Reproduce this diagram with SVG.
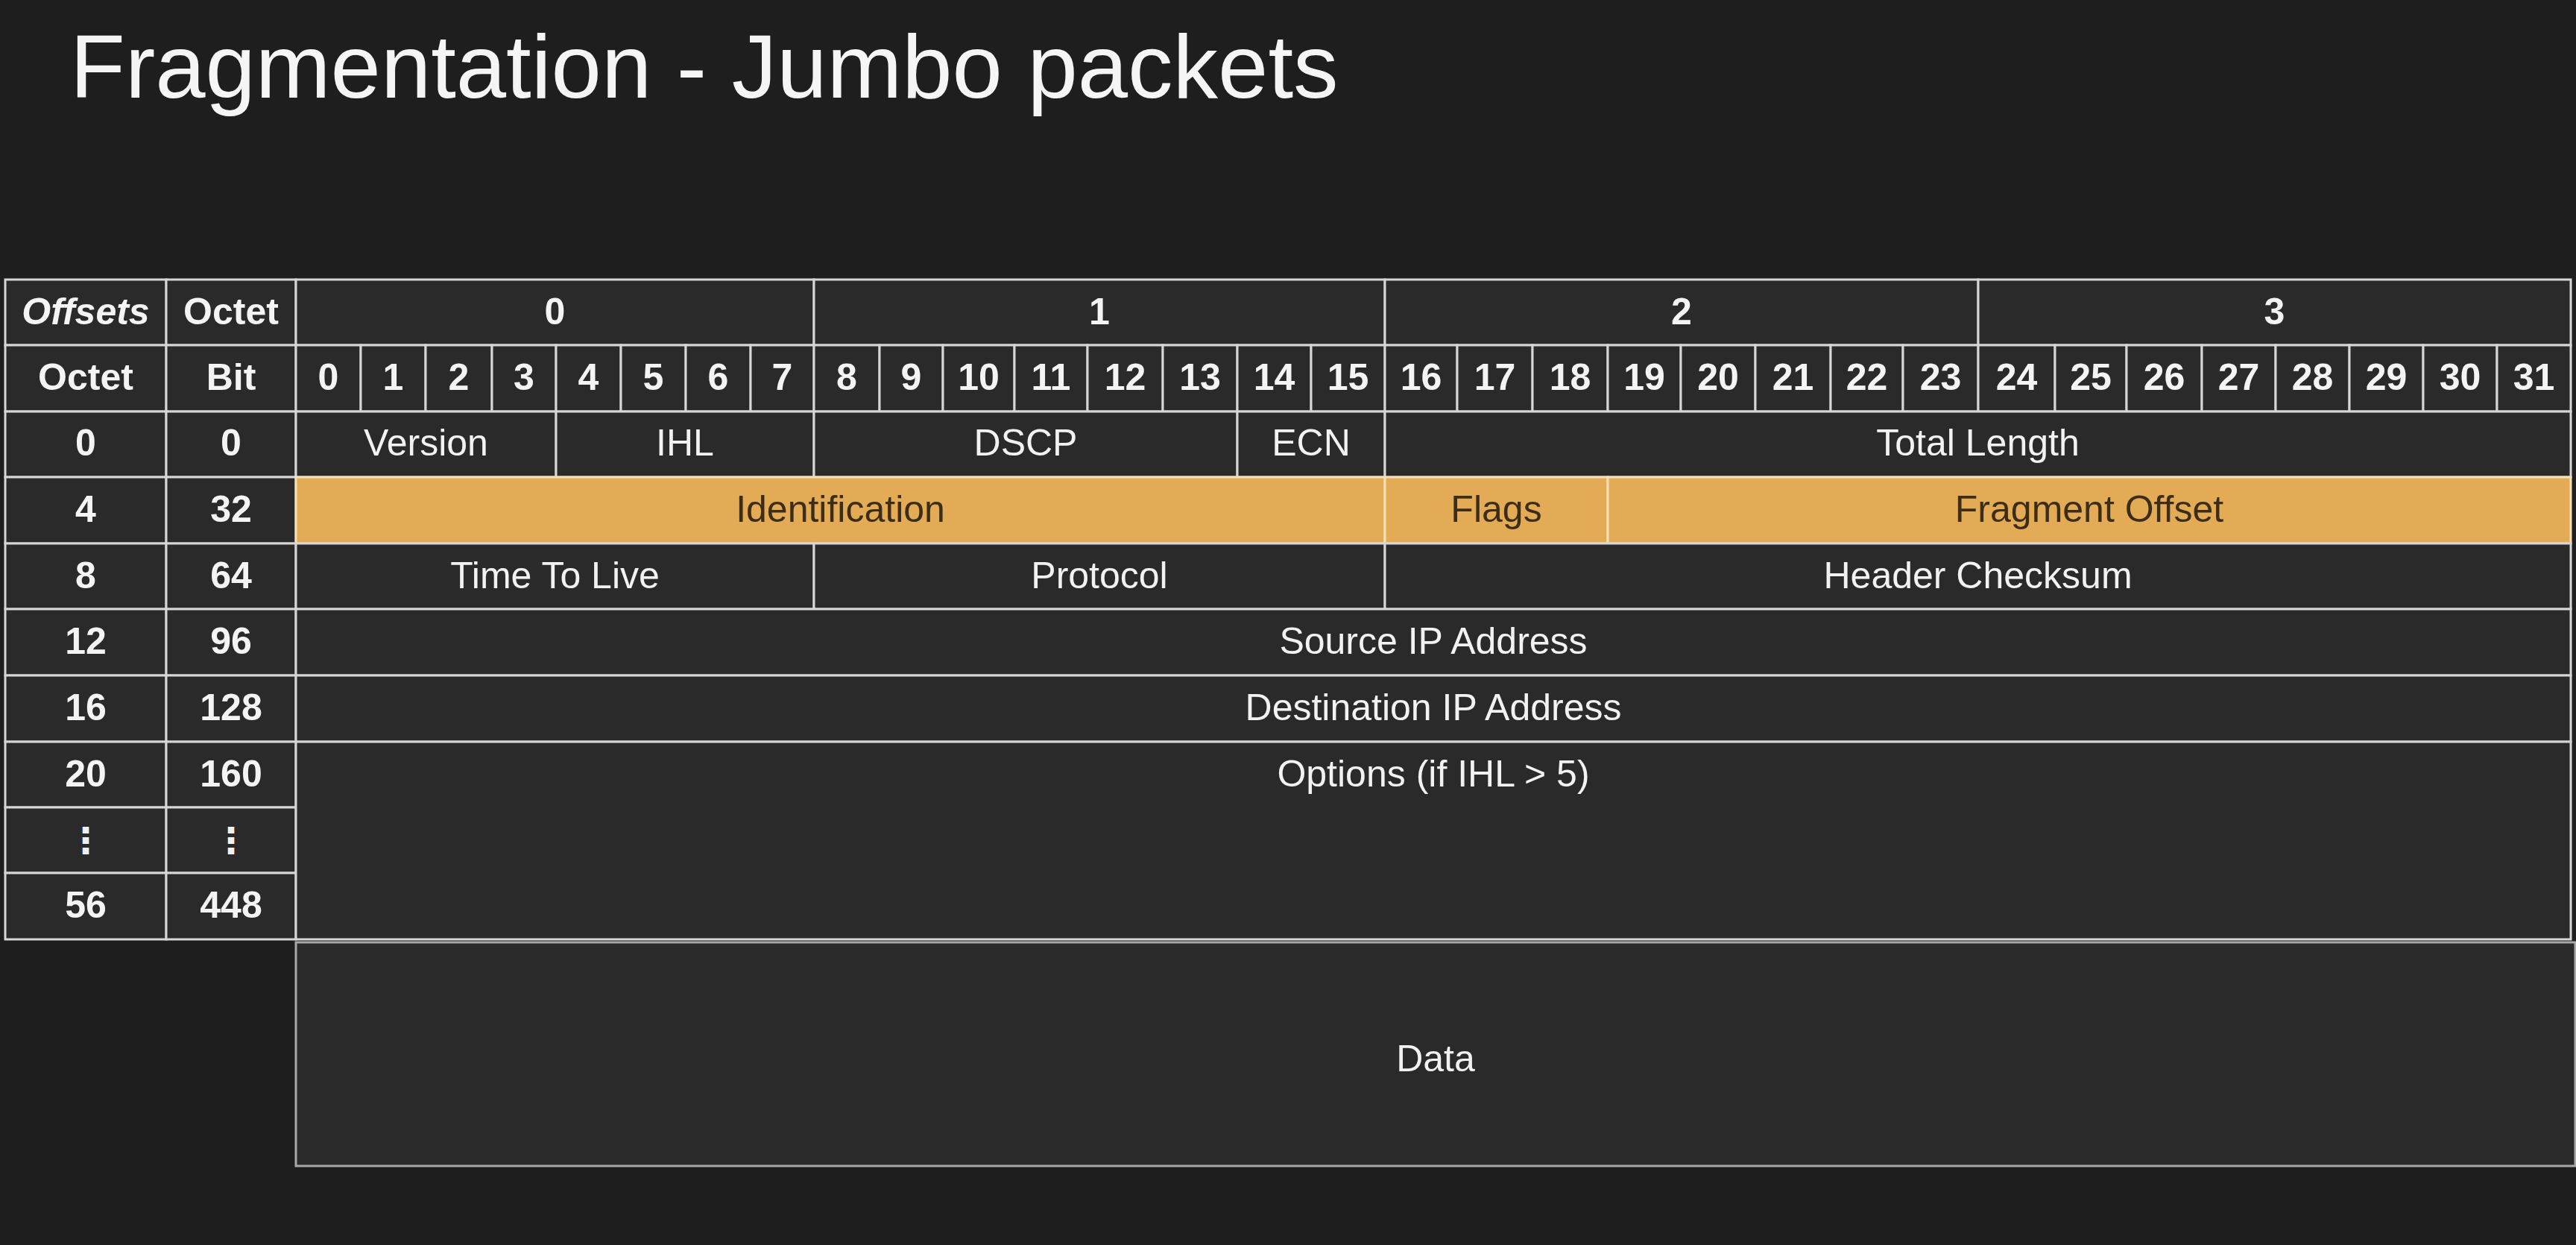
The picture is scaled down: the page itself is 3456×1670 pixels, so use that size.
<svg xmlns="http://www.w3.org/2000/svg" width="3456" height="1670" viewBox="0 0 3456 1670">
<style>
.c{fill:#2a2a2a;stroke:#d6d6d6;stroke-width:3}
.o{fill:#e4ab57;stroke:#f3e0b8;stroke-width:3}
.d{fill:#2a2a2a;stroke:#a8a8a8;stroke-width:3}
.b{font-family:"Liberation Sans",Arial,sans-serif;font-weight:bold;font-size:50px;fill:#f4f4f4;text-anchor:middle}
.bi{font-style:italic}
.r{font-family:"Liberation Sans",Arial,sans-serif;font-size:50px;fill:#f2f2f2;text-anchor:middle}
.ro{font-family:"Liberation Sans",Arial,sans-serif;font-size:50px;fill:#3b2d16;text-anchor:middle}
.e{font-family:"DejaVu Sans",sans-serif;font-weight:bold;font-size:48px;fill:#f0f0f0;text-anchor:middle}
</style>
<rect x="0" y="0" width="3456" height="1670" fill="#1e1e1e"/>
<text x="94" y="131" font-family="Liberation Sans, Arial, sans-serif" font-size="121" fill="#f5f5f5">Fragmentation - Jumbo packets</text>

<g id="header-row0">
<g id="h-offsets"><rect class="c" x="7" y="375" width="216" height="88"/><text class="b bi" x="115" y="435">Offsets</text></g>
<g id="h-octet"><rect class="c" x="223" y="375" width="174" height="88"/><text class="b" x="310" y="435">Octet</text></g>
<g id="h-oct0"><rect class="c" x="397" y="375" width="695" height="88"/><text class="b" x="744.5" y="435">0</text></g>
<g id="h-oct1"><rect class="c" x="1092" y="375" width="766" height="88"/><text class="b" x="1475" y="435">1</text></g>
<g id="h-oct2"><rect class="c" x="1858" y="375" width="796" height="88"/><text class="b" x="2256" y="435">2</text></g>
<g id="h-oct3"><rect class="c" x="2654" y="375" width="795" height="88"/><text class="b" x="3051.5" y="435">3</text></g>
</g>

<g id="header-row1">
<g id="h-octet2"><rect class="c" x="7" y="463" width="216" height="89"/><text class="b" x="115" y="523">Octet</text></g>
<g id="h-bit"><rect class="c" x="223" y="463" width="174" height="89"/><text class="b" x="310" y="523">Bit</text></g>
<g id="bit0"><rect class="c" x="397" y="463" width="87" height="89"/><text class="b" x="440.5" y="523">0</text></g>
<g id="bit1"><rect class="c" x="484" y="463" width="87" height="89"/><text class="b" x="527.5" y="523">1</text></g>
<g id="bit2"><rect class="c" x="571" y="463" width="89" height="89"/><text class="b" x="615.5" y="523">2</text></g>
<g id="bit3"><rect class="c" x="660" y="463" width="86" height="89"/><text class="b" x="703" y="523">3</text></g>
<g id="bit4"><rect class="c" x="746" y="463" width="87" height="89"/><text class="b" x="789.5" y="523">4</text></g>
<g id="bit5"><rect class="c" x="833" y="463" width="87" height="89"/><text class="b" x="876.5" y="523">5</text></g>
<g id="bit6"><rect class="c" x="920" y="463" width="87" height="89"/><text class="b" x="963.5" y="523">6</text></g>
<g id="bit7"><rect class="c" x="1007" y="463" width="85" height="89"/><text class="b" x="1049.5" y="523">7</text></g>
<g id="bit8"><rect class="c" x="1092" y="463" width="88" height="89"/><text class="b" x="1136" y="523">8</text></g>
<g id="bit9"><rect class="c" x="1180" y="463" width="85" height="89"/><text class="b" x="1222.5" y="523">9</text></g>
<g id="bit10"><rect class="c" x="1265" y="463" width="96" height="89"/><text class="b" x="1313" y="523">10</text></g>
<g id="bit11"><rect class="c" x="1361" y="463" width="98" height="89"/><text class="b" x="1410" y="523">11</text></g>
<g id="bit12"><rect class="c" x="1459" y="463" width="101" height="89"/><text class="b" x="1509.5" y="523">12</text></g>
<g id="bit13"><rect class="c" x="1560" y="463" width="100" height="89"/><text class="b" x="1610" y="523">13</text></g>
<g id="bit14"><rect class="c" x="1660" y="463" width="99" height="89"/><text class="b" x="1709.5" y="523">14</text></g>
<g id="bit15"><rect class="c" x="1759" y="463" width="99" height="89"/><text class="b" x="1808.5" y="523">15</text></g>
<g id="bit16"><rect class="c" x="1858" y="463" width="97" height="89"/><text class="b" x="1906.5" y="523">16</text></g>
<g id="bit17"><rect class="c" x="1955" y="463" width="101" height="89"/><text class="b" x="2005.5" y="523">17</text></g>
<g id="bit18"><rect class="c" x="2056" y="463" width="101" height="89"/><text class="b" x="2106.5" y="523">18</text></g>
<g id="bit19"><rect class="c" x="2157" y="463" width="98" height="89"/><text class="b" x="2206" y="523">19</text></g>
<g id="bit20"><rect class="c" x="2255" y="463" width="100" height="89"/><text class="b" x="2305" y="523">20</text></g>
<g id="bit21"><rect class="c" x="2355" y="463" width="101" height="89"/><text class="b" x="2405.5" y="523">21</text></g>
<g id="bit22"><rect class="c" x="2456" y="463" width="97" height="89"/><text class="b" x="2504.5" y="523">22</text></g>
<g id="bit23"><rect class="c" x="2553" y="463" width="101" height="89"/><text class="b" x="2603.5" y="523">23</text></g>
<g id="bit24"><rect class="c" x="2654" y="463" width="103" height="89"/><text class="b" x="2705.5" y="523">24</text></g>
<g id="bit25"><rect class="c" x="2757" y="463" width="96" height="89"/><text class="b" x="2805" y="523">25</text></g>
<g id="bit26"><rect class="c" x="2853" y="463" width="101" height="89"/><text class="b" x="2903.5" y="523">26</text></g>
<g id="bit27"><rect class="c" x="2954" y="463" width="99" height="89"/><text class="b" x="3003.5" y="523">27</text></g>
<g id="bit28"><rect class="c" x="3053" y="463" width="99" height="89"/><text class="b" x="3102.5" y="523">28</text></g>
<g id="bit29"><rect class="c" x="3152" y="463" width="99" height="89"/><text class="b" x="3201.5" y="523">29</text></g>
<g id="bit30"><rect class="c" x="3251" y="463" width="99" height="89"/><text class="b" x="3300.5" y="523">30</text></g>
<g id="bit31"><rect class="c" x="3350" y="463" width="99" height="89"/><text class="b" x="3399.5" y="523">31</text></g>
</g>

<g id="row-0">
<g id="off-0"><rect class="c" x="7" y="552" width="216" height="88"/><text class="b" x="115" y="611">0</text></g>
<g id="bit-0"><rect class="c" x="223" y="552" width="174" height="88"/><text class="b" x="310" y="611">0</text></g>
<g id="f-version"><rect class="c" x="397" y="552" width="349" height="88"/><text class="r" x="571.5" y="611">Version</text></g>
<g id="f-ihl"><rect class="c" x="746" y="552" width="346" height="88"/><text class="r" x="919" y="611">IHL</text></g>
<g id="f-dscp"><rect class="c" x="1092" y="552" width="568" height="88"/><text class="r" x="1376" y="611">DSCP</text></g>
<g id="f-ecn"><rect class="c" x="1660" y="552" width="198" height="88"/><text class="r" x="1759" y="611">ECN</text></g>
<g id="f-totlen"><rect class="c" x="1858" y="552" width="1591" height="88"/><text class="r" x="2653.5" y="611">Total Length</text></g>
</g>

<g id="row-4">
<g id="off-4"><rect class="c" x="7" y="640" width="216" height="89"/><text class="b" x="115" y="700">4</text></g>
<g id="bit-32"><rect class="c" x="223" y="640" width="174" height="89"/><text class="b" x="310" y="700">32</text></g>
<g id="f-ident"><rect class="o" x="397" y="640" width="1461" height="89"/><text class="ro" x="1127.5" y="700">Identification</text></g>
<g id="f-flags"><rect class="o" x="1858" y="640" width="299" height="89"/><text class="ro" x="2007.5" y="700">Flags</text></g>
<g id="f-fragoff"><rect class="o" x="2157" y="640" width="1292" height="89"/><text class="ro" x="2803" y="700">Fragment Offset</text></g>
</g>

<g id="row-8">
<g id="off-8"><rect class="c" x="7" y="729" width="216" height="88"/><text class="b" x="115" y="789">8</text></g>
<g id="bit-64"><rect class="c" x="223" y="729" width="174" height="88"/><text class="b" x="310" y="789">64</text></g>
<g id="f-ttl"><rect class="c" x="397" y="729" width="695" height="88"/><text class="r" x="744.5" y="789">Time To Live</text></g>
<g id="f-proto"><rect class="c" x="1092" y="729" width="766" height="88"/><text class="r" x="1475" y="789">Protocol</text></g>
<g id="f-cksum"><rect class="c" x="1858" y="729" width="1591" height="88"/><text class="r" x="2653.5" y="789">Header Checksum</text></g>
</g>

<g id="row-12">
<g id="off-12"><rect class="c" x="7" y="817" width="216" height="89"/><text class="b" x="115" y="877">12</text></g>
<g id="bit-96"><rect class="c" x="223" y="817" width="174" height="89"/><text class="b" x="310" y="877">96</text></g>
<g id="f-src"><rect class="c" x="397" y="817" width="3052" height="89"/><text class="r" x="1923" y="877">Source IP Address</text></g>
</g>

<g id="row-16">
<g id="off-16"><rect class="c" x="7" y="906" width="216" height="89"/><text class="b" x="115" y="966">16</text></g>
<g id="bit-128"><rect class="c" x="223" y="906" width="174" height="89"/><text class="b" x="310" y="966">128</text></g>
<g id="f-dst"><rect class="c" x="397" y="906" width="3052" height="89"/><text class="r" x="1923" y="966">Destination IP Address</text></g>
</g>

<g id="row-20">
<g id="off-20"><rect class="c" x="7" y="995" width="216" height="88"/><text class="b" x="115" y="1055">20</text></g>
<g id="bit-160"><rect class="c" x="223" y="995" width="174" height="88"/><text class="b" x="310" y="1055">160</text></g>
<g id="off-dots"><rect class="c" x="7" y="1083" width="216" height="88"/><text class="e" x="115" y="1127" dominant-baseline="central">⋮</text></g>
<g id="bit-dots"><rect class="c" x="223" y="1083" width="174" height="88"/><text class="e" x="310" y="1127" dominant-baseline="central">⋮</text></g>
<g id="off-56"><rect class="c" x="7" y="1171" width="216" height="89"/><text class="b" x="115" y="1231">56</text></g>
<g id="bit-448"><rect class="c" x="223" y="1171" width="174" height="89"/><text class="b" x="310" y="1231">448</text></g>
<g id="f-options"><rect class="c" x="397" y="995" width="3052" height="265"/><text class="r" x="1923" y="1055">Options (if IHL &gt; 5)</text></g>
</g>

<g id="data"><rect class="d" x="397" y="1264" width="3058" height="300"/><text class="r" x="1926" y="1437" font-size="60">Data</text></g>

<g id="connectors"></g>
</svg>
